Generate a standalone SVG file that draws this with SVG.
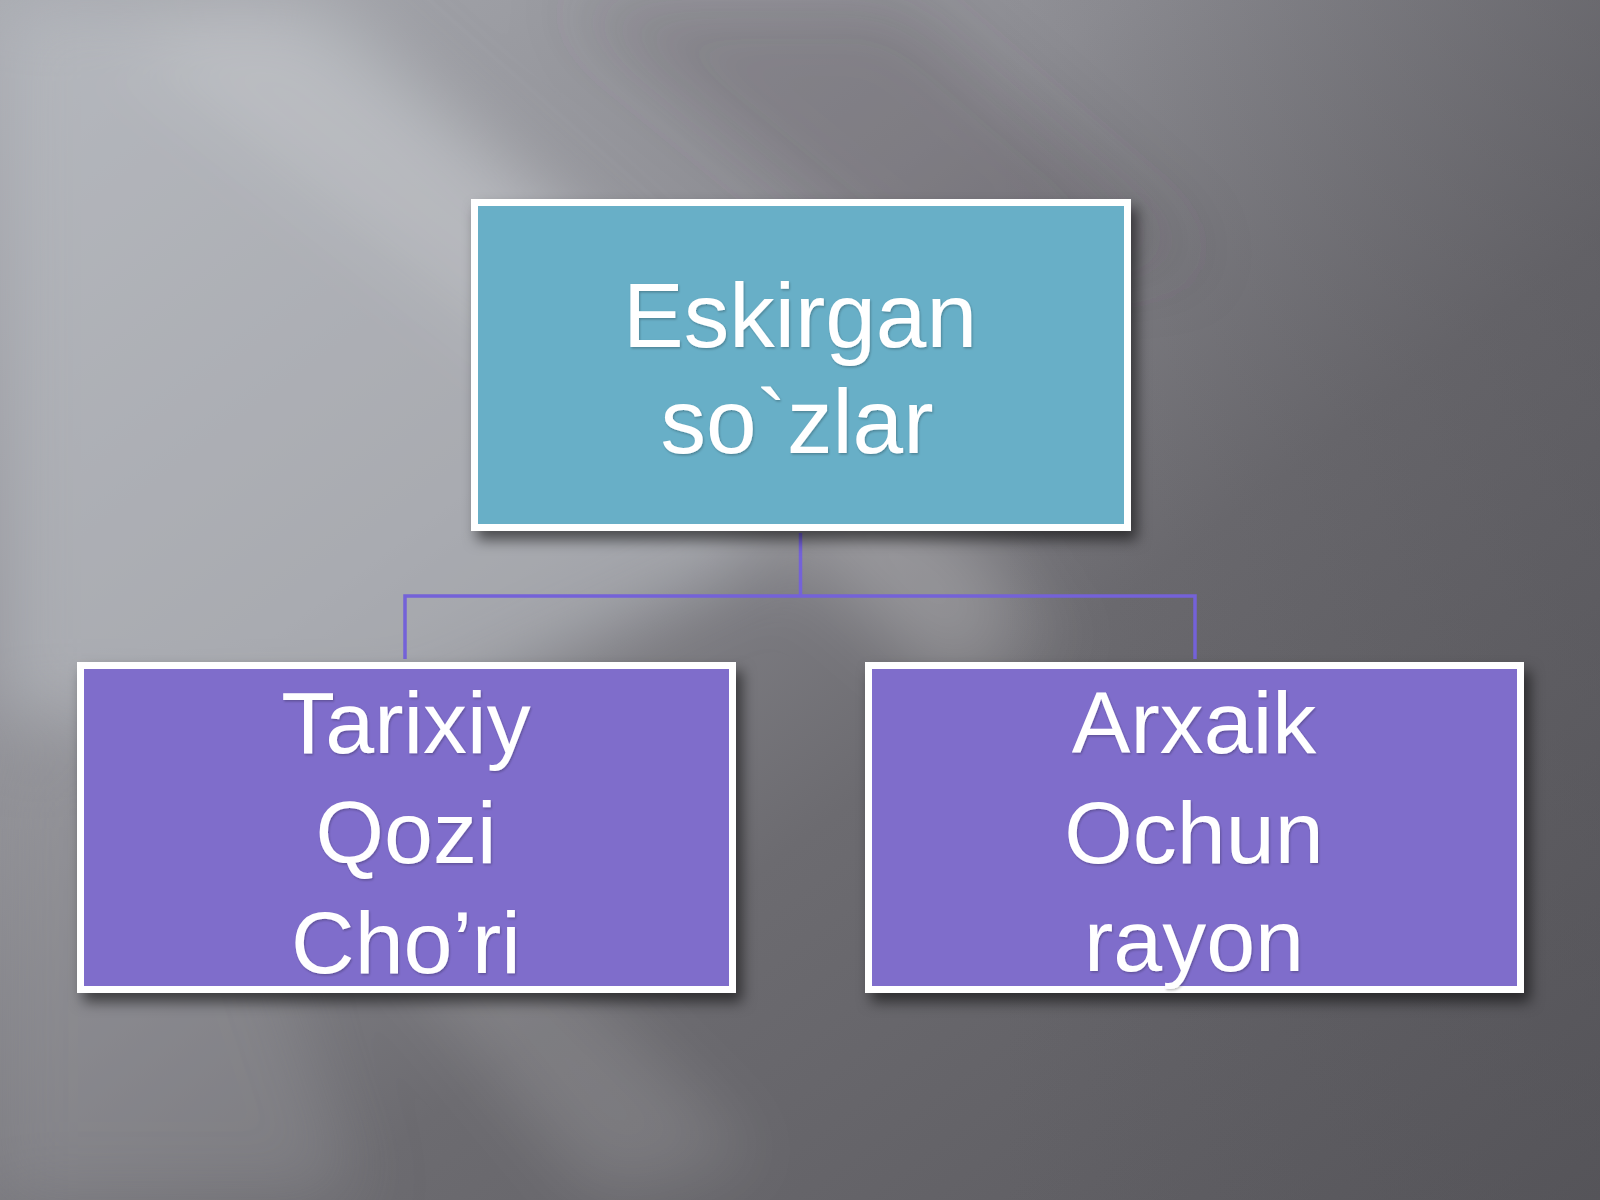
<svg xmlns="http://www.w3.org/2000/svg" width="1600" height="1200" viewBox="0 0 1600 1200">
<defs>
  <linearGradient id="bg" x1="0" y1="0" x2="1" y2="1">
    <stop offset="0" stop-color="#a8aab0"/>
    <stop offset="0.35" stop-color="#8e8e94"/>
    <stop offset="0.6" stop-color="#6c6b70"/>
    <stop offset="1" stop-color="#59585d"/>
  </linearGradient>
  <linearGradient id="rightDark" x1="0" y1="0" x2="1" y2="0">
    <stop offset="0" stop-color="#4e4d52" stop-opacity="0"/>
    <stop offset="1" stop-color="#4e4d52" stop-opacity="0.35"/>
  </linearGradient>
  <filter id="blur" x="-30%" y="-30%" width="160%" height="160%">
    <feGaussianBlur stdDeviation="35"/>
  </filter>
  <filter id="shadow" x="-10%" y="-10%" width="125%" height="130%">
    <feDropShadow dx="6" dy="9" stdDeviation="7" flood-color="#000" flood-opacity="0.55"/>
  </filter>
  <filter id="tshadow" x="-5%" y="-5%" width="110%" height="120%">
    <feDropShadow dx="1" dy="1.5" stdDeviation="1" flood-color="#000" flood-opacity="0.25"/>
  </filter>
  <style>
    .box { stroke: #ffffff; stroke-width: 7; }
    .top { fill: #68afc7; }
    .child { fill: #7f6dcb; }
    .lbl { font-family: "Liberation Sans", Arial, sans-serif; fill: #ffffff; text-anchor: middle; }
    .conn { fill: none; stroke: #7462d8; stroke-width: 3.5; }
  </style>
</defs>

<rect x="0" y="0" width="1600" height="1200" fill="url(#bg)"/>
<rect x="1000" y="0" width="600" height="1200" fill="url(#rightDark)"/>
<g filter="url(#blur)">
  <polygon points="0,0 330,0 700,330 760,560 420,720 0,720" fill="#c0c2c8" opacity="0.55"/>
  <polygon points="120,40 260,0 1020,560 960,700" fill="#ffffff" opacity="0.12"/>
  <polygon points="560,0 900,0 1200,260 900,280" fill="#4a4950" opacity="0.25"/>
  <polygon points="760,480 860,470 1080,640 960,700" fill="#ffffff" opacity="0.13"/>
  <polygon points="380,940 520,920 760,1160 600,1200" fill="#ffffff" opacity="0.13"/>
  <polygon points="0,760 200,720 360,1200 0,1200" fill="#9a9aa0" opacity="0.35"/>
</g>

<g id="connectors">
  <path class="conn" d="M 800.5 533 L 800.5 596"/>
  <path class="conn" d="M 405 659 L 405 596 L 1195 596 L 1195 659"/>
</g>

<g id="node-top" filter="url(#shadow)">
  <rect class="box top" x="474.5" y="202.5" width="653" height="325"/>
</g>
<g id="node-top-label" filter="url(#tshadow)">
  <text class="lbl" x="800" y="347" font-size="91">Eskirgan</text>
  <text class="lbl" x="797" y="453" font-size="91">so`zlar</text>
</g>

<g id="node-left" filter="url(#shadow)">
  <rect class="box child" x="80.5" y="665.5" width="652" height="324"/>
</g>
<g id="node-left-label" filter="url(#tshadow)">
  <text class="lbl" x="406" y="753" font-size="88">Tarixiy</text>
  <text class="lbl" x="406" y="863" font-size="88">Qozi</text>
  <text class="lbl" x="406" y="973" font-size="88">Cho’ri</text>
</g>

<g id="node-right" filter="url(#shadow)">
  <rect class="box child" x="868.5" y="665.5" width="652" height="324"/>
</g>
<g id="node-right-label" filter="url(#tshadow)">
  <text class="lbl" x="1194" y="753" font-size="88">Arxaik</text>
  <text class="lbl" x="1194" y="863" font-size="88">Ochun</text>
  <text class="lbl" x="1194" y="971" font-size="88">rayon</text>
</g>
</svg>
